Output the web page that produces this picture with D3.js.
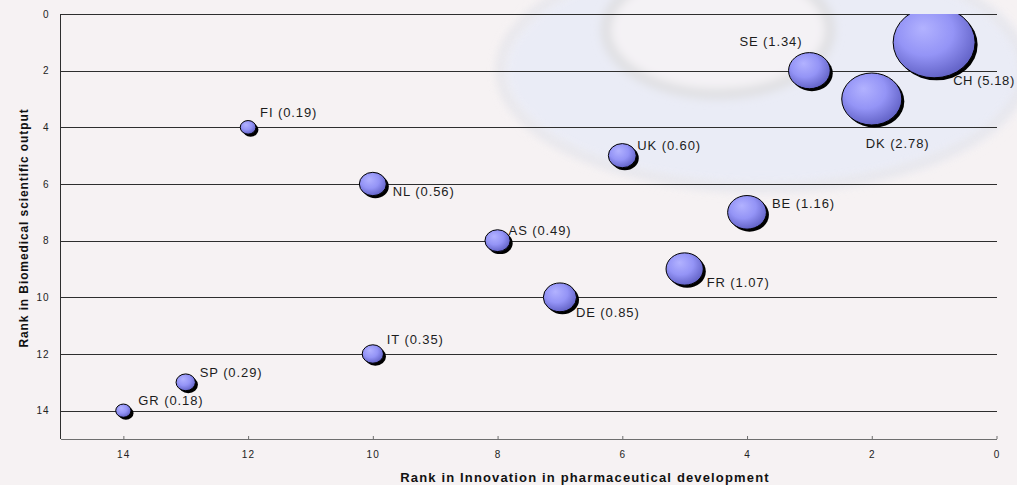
<!DOCTYPE html>
<html>
<head>
<meta charset="utf-8">
<script src="https://cdn.jsdelivr.net/npm/d3@7"></script>
<style>
  html, body { margin: 0; padding: 0; background: #f6f2f3; }
  svg { display: block; font-family: Arial, "Liberation Sans", sans-serif; }
</style>
</head>
<body>
<svg id="chart" width="1017" height="485"></svg>
<script>
// ---- data ----
const countries      = ["CH", "SE", "DK", "UK", "NL", "AS", "BE", "FR", "DE", "FI", "IT", "SP", "GR"];
const innovationRank = [1, 3, 2, 6, 10, 8, 4, 5, 7, 12, 10, 13, 14];
const biomedRank     = [1, 2, 3, 5, 6, 8, 7, 9, 10, 4, 12, 13, 14];
const bubbleValues   = [5.18, 1.34, 2.78, 0.60, 0.56, 0.49, 1.16, 1.07, 0.85, 0.19, 0.35, 0.29, 0.18];
const xTicks = [14, 12, 10, 8, 6, 4, 2, 0];
const yTicks = [0, 2, 4, 6, 8, 10, 12, 14];
const xTitle = "Rank in Innovation in pharmaceutical development";
const yTitle = "Rank in Biomedical scientific output";

// label placement (pixel nudge from each bubble centre)
const labelNudge = [[19, 43], [-70, -25], [-6, 49], [15, -6], [20, 12], [11, -6], [25, -4],
                    [22, 18], [16, 20], [12, -10], [14, -10], [14, -5], [15, -6]];

// ---- layout ----
const W = 1017, H = 485;
const plot = { left: 61, right: 997, top: 14, bottom: 439 };

const svg = d3.select("#chart");
const x = d3.scaleLinear().domain([15, 0]).range([plot.left, 996.5]);
const y = d3.scaleLinear().domain([0, 15]).range([plot.top, plot.bottom]);
const rx = d3.scaleSqrt().domain([0, d3.max(bubbleValues)]).range([0, 41]);
const ry = d3.scaleSqrt().domain([0, d3.max(bubbleValues)]).range([0, 35.5]);

const defs = svg.append("defs");
defs.append("filter").attr("id", "blurWide").attr("x", "-20%").attr("y", "-20%").attr("width", "140%").attr("height", "140%")
  .append("feGaussianBlur").attr("stdDeviation", 7);
defs.append("filter").attr("id", "blurSoft").attr("x", "-20%").attr("y", "-20%").attr("width", "140%").attr("height", "140%")
  .append("feGaussianBlur").attr("stdDeviation", 4);
defs.append("clipPath").attr("id", "plotClip")
  .append("rect").attr("x", plot.left).attr("y", plot.top)
  .attr("width", plot.right - plot.left).attr("height", plot.bottom - plot.top);

const grad = defs.append("radialGradient").attr("id", "bubbleFill")
  .attr("cx", "42%").attr("cy", "38%").attr("r", "62%").attr("fx", "36%").attr("fy", "30%");
grad.append("stop").attr("offset", "0%").attr("stop-color", "#b2b2ff");
grad.append("stop").attr("offset", "55%").attr("stop-color", "#9494f6");
grad.append("stop").attr("offset", "100%").attr("stop-color", "#6464c8");

// ---- faint backdrop emblem ----
svg.append("rect").attr("width", W).attr("height", H).attr("fill", "#f6f2f3");
const emblem = svg.append("g");
emblem.append("ellipse").attr("cx", 765).attr("cy", 70).attr("rx", 262).attr("ry", 118)
  .attr("fill", "#eaecf6").attr("filter", "url(#blurWide)");
emblem.append("ellipse").attr("cx", 762).attr("cy", 70).attr("rx", 262).attr("ry", 118)
  .attr("fill", "none").attr("stroke", "#e2e2e7").attr("stroke-width", 8)
  .attr("opacity", 0.7).attr("filter", "url(#blurSoft)");
emblem.append("ellipse").attr("cx", 718).attr("cy", 30).attr("rx", 112).attr("ry", 64)
  .attr("fill", "#f4f2f5").attr("stroke", "#e0e0e3").attr("stroke-width", 11)
  .attr("filter", "url(#blurSoft)");

// ---- gridlines ----
svg.append("g").selectAll("line").data(yTicks).join("line")
  .attr("x1", plot.left).attr("x2", plot.right)
  .attr("y1", d => Math.round(y(d)) + 0.5).attr("y2", d => Math.round(y(d)) + 0.5)
  .attr("stroke", "#2e2e2e").attr("stroke-width", 1);

// ---- axes ----
const xAxis = svg.append("g").attr("transform", `translate(0,${plot.bottom})`)
  .call(d3.axisBottom(x).tickValues(xTicks).tickSizeInner(-3).tickSizeOuter(0).tickPadding(12));
xAxis.select(".domain").attr("stroke", "#6e6e6e").attr("d", `M${plot.left},0.5H${plot.right}`);
xAxis.selectAll(".tick line").attr("stroke", "#6e6e6e");
xAxis.selectAll(".tick text").attr("font-size", 10).attr("fill", "#222")
  .attr("font-family", "Arial, 'Liberation Sans', sans-serif").style("letter-spacing", "1.2px");

const yAxis = svg.append("g").attr("transform", `translate(${plot.left - 0.5},0)`)
  .call(d3.axisLeft(y).tickValues(yTicks).tickSize(0).tickPadding(11));
yAxis.select(".domain").attr("stroke", "#2e2e2e").attr("d", `M0,${plot.top}V${plot.bottom}`);
yAxis.selectAll(".tick text").attr("font-size", 10).attr("fill", "#222")
  .attr("font-family", "Arial, 'Liberation Sans', sans-serif").style("letter-spacing", "1px");

// ---- axis titles ----
svg.append("text").attr("x", 585).attr("y", 481.5).attr("text-anchor", "middle")
  .attr("font-size", 13).attr("font-weight", "bold").attr("fill", "#111")
  .style("letter-spacing", "1.15px").text(xTitle);
svg.append("text").attr("transform", "translate(28,228) rotate(-90)").attr("text-anchor", "middle")
  .attr("font-size", 12).attr("font-weight", "bold").attr("fill", "#111")
  .style("letter-spacing", "0.9px").text(yTitle);

// ---- bubbles ----
const points = countries.map((c, i) => ({
  name: c, xv: innovationRank[i], yv: biomedRank[i], v: bubbleValues[i], nudge: labelNudge[i]
}));
const drawOrder = points.slice().sort((a, b) => b.v - a.v);

const bubbles = svg.append("g").attr("clip-path", "url(#plotClip)")
  .selectAll("g").data(drawOrder).join("g");
bubbles.append("ellipse")
  .attr("cx", d => x(d.xv) + 2.5).attr("cy", d => y(d.yv) + 2.5)
  .attr("rx", d => rx(d.v)).attr("ry", d => ry(d.v)).attr("fill", "#000");
bubbles.append("ellipse")
  .attr("cx", d => x(d.xv)).attr("cy", d => y(d.yv))
  .attr("rx", d => rx(d.v)).attr("ry", d => ry(d.v))
  .attr("fill", "url(#bubbleFill)").attr("stroke", "#000").attr("stroke-width", 1);

// ---- data labels ----
svg.append("g").selectAll("text").data(points).join("text")
  .attr("x", d => x(d.xv) + d.nudge[0]).attr("y", d => y(d.yv) + d.nudge[1])
  .attr("font-size", 13).attr("fill", "#1c1c1c")
  .style("letter-spacing", d => d.name === "CH" ? "0.6px" : "0.9px")
  .text(d => `${d.name} (${d.v.toFixed(2)})`);
</script>
</body>
</html>
